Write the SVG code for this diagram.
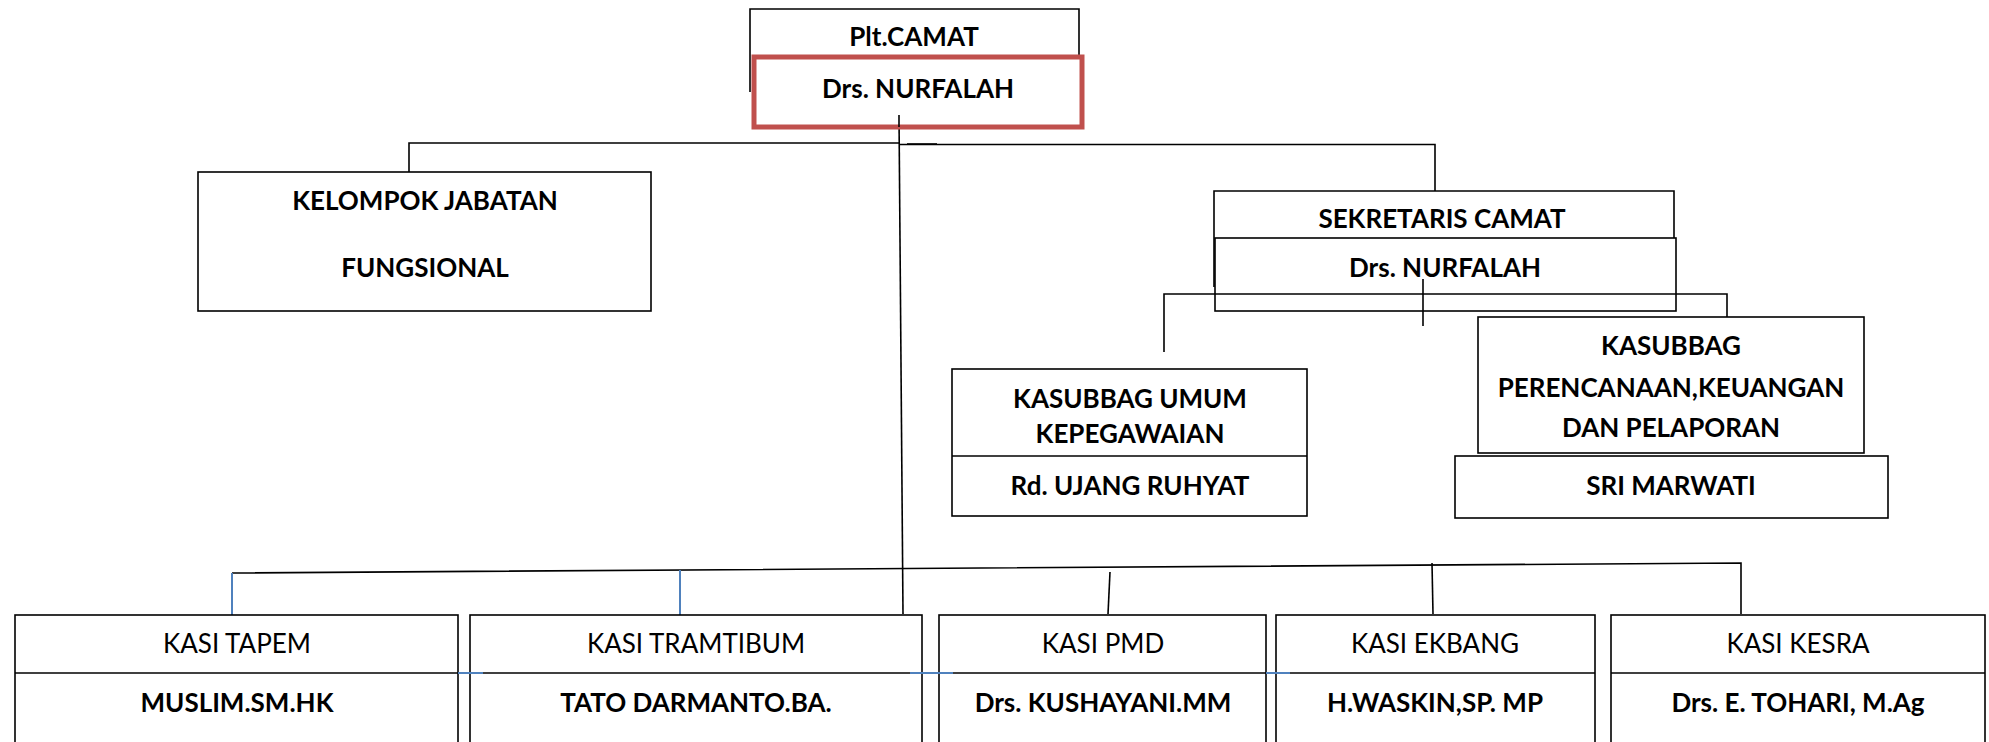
<svg xmlns="http://www.w3.org/2000/svg" width="1989" height="742" viewBox="0 0 1989 742">
<style>
.box{fill:#fff;stroke:#000;stroke-width:1.6}
.ln{fill:none;stroke:#000;stroke-width:1.6}
.bl{fill:none;stroke:#4f81bd;stroke-width:2}
.red{fill:#fff;stroke:#c0504d;stroke-width:5}
text{font-family:Lato,"Liberation Sans",sans-serif;font-size:26px;text-anchor:middle;fill:#000}
.b{font-weight:bold}
</style>
<rect width="1989" height="742" fill="#fff"/>
<g id="connectors">
<path class="ln" d="M409,172 V143 H900 M900,144.5 H1435 V191"/>
<path class="ln" d="M907,144 H937" stroke-width="2.5"/>
<path class="ln" d="M899,115 L903,614"/>
<path class="ln" d="M1164,352 V294 H1727 V317"/>
<path class="ln" d="M1423,279 V326"/>
<path class="ln" d="M232,573 L1741,563 V614"/>
<path class="ln" d="M1110,572 L1108,614"/>
<path class="ln" d="M1432,563 L1433,614"/>
<path class="bl" d="M232,573 V615 M680,570 V615"/>
</g>
<g id="camat">
<path class="ln" d="M750,92 V9 H1079 V57"/>
<rect class="red" x="754" y="57" width="328" height="70"/>
<text class="b" x="914" y="46">Plt.CAMAT</text>
<text class="b" x="918" y="98">Drs. NURFALAH</text>
<path class="ln" d="M899,115 V127"/>
</g>
<g id="kelompok">
<rect class="box" x="198" y="172" width="453" height="139"/>
<text class="b" x="425" y="210">KELOMPOK JABATAN</text>
<text class="b" x="425" y="277">FUNGSIONAL</text>
</g>
<g id="sekretaris">
<path class="ln" d="M1214,287 V191 H1674 V238"/>
<rect class="box" x="1215" y="238" width="461" height="73" style="fill:none"/>
<text class="b" x="1442" y="228">SEKRETARIS CAMAT</text>
<text class="b" x="1445" y="277">Drs. NURFALAH</text>
</g>
<g id="umum">
<rect class="box" x="952" y="369" width="355" height="147"/>
<line class="ln" x1="952" y1="456" x2="1307" y2="456"/>
<text class="b" x="1130" y="408">KASUBBAG UMUM</text>
<text class="b" x="1130" y="443">KEPEGAWAIAN</text>
<text class="b" x="1130" y="495">Rd. UJANG RUHYAT</text>
</g>
<g id="perencanaan">
<rect class="box" x="1478" y="317" width="386" height="136"/>
<text class="b" x="1671" y="355">KASUBBAG</text>
<text class="b" x="1671" y="397">PERENCANAAN,KEUANGAN</text>
<text class="b" x="1671" y="437">DAN PELAPORAN</text>
</g>
<g id="marwati">
<rect class="box" x="1455" y="456" width="433" height="62"/>
<text class="b" x="1671" y="495">SRI MARWATI</text>
</g>
<g id="tapem">
<rect class="box" x="15" y="615" width="443" height="140"/>
<line class="ln" x1="15" y1="673" x2="458" y2="673"/>
<text x="237" y="653">KASI TAPEM</text>
<text class="b" x="237" y="712">MUSLIM.SM.HK</text>
</g>
<g id="tramtibum">
<rect class="box" x="470" y="615" width="452" height="140"/>
<line class="ln" x1="470" y1="673" x2="922" y2="673"/>
<text x="696" y="653">KASI TRAMTIBUM</text>
<text class="b" x="696" y="712">TATO DARMANTO.BA.</text>
</g>
<g id="pmd">
<rect class="box" x="939" y="615" width="327" height="140"/>
<line class="ln" x1="939" y1="673" x2="1266" y2="673"/>
<text x="1103" y="653">KASI PMD</text>
<text class="b" x="1103" y="712">Drs. KUSHAYANI.MM</text>
</g>
<g id="ekbang">
<rect class="box" x="1276" y="615" width="319" height="140"/>
<line class="ln" x1="1276" y1="673" x2="1595" y2="673"/>
<text x="1435" y="653">KASI EKBANG</text>
<text class="b" x="1435" y="712">H.WASKIN,SP. MP</text>
</g>
<g id="kesra">
<rect class="box" x="1611" y="615" width="374" height="140"/>
<line class="ln" x1="1611" y1="673" x2="1985" y2="673"/>
<text x="1798" y="653">KASI KESRA</text>
<text class="b" x="1798" y="712">Drs. E. TOHARI, M.Ag</text>
</g>
<g id="bridges">
<path class="bl" d="M458,673 H483 M910,673 H953 M1266,673 H1290"/>
</g>
</svg>
